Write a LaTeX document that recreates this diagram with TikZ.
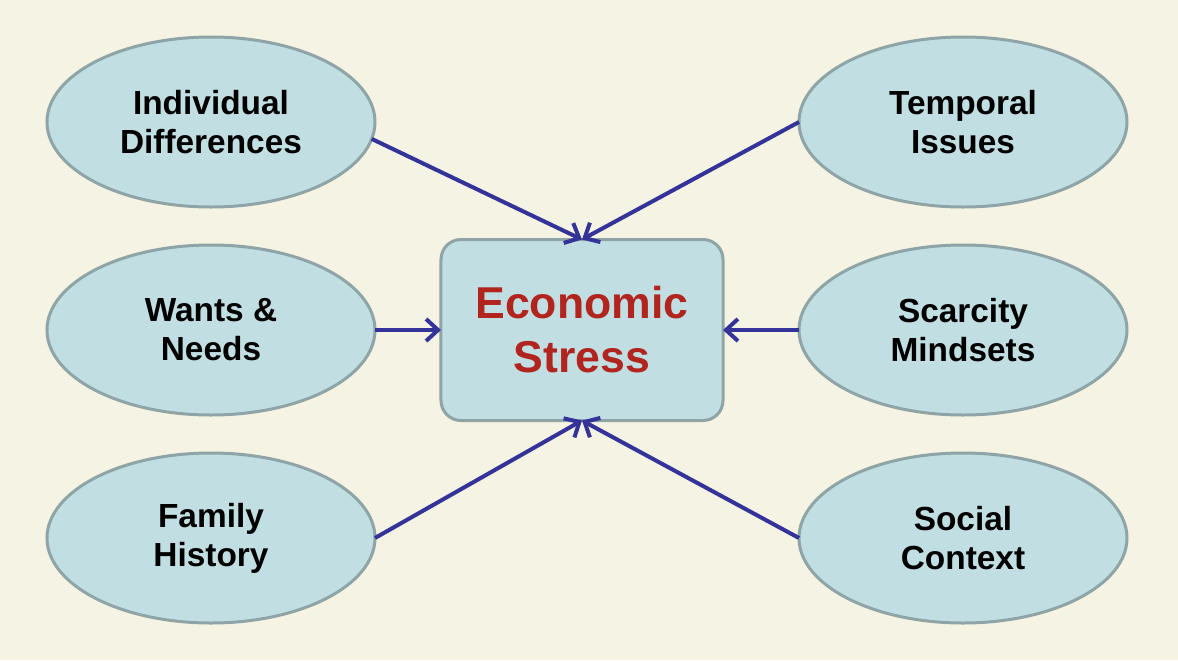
\documentclass[tikz,border=0pt]{standalone}
\usepackage{fontspec}
\setmainfont{Liberation Sans}
\usetikzlibrary{arrows.meta, positioning, shapes.geometric}
\definecolor{paper}{RGB}{245,243,227}
\definecolor{cell}{RGB}{193,223,226}
\definecolor{rim}{RGB}{142,164,166}
\definecolor{link}{RGB}{51,51,153}
\definecolor{hot}{RGB}{178,36,30}

\begin{document}
\begin{tikzpicture}[
    oval/.style={ellipse, draw=rim, fill=cell, line width=1.5pt, outer sep=0pt,
                 minimum width=164pt, minimum height=85pt, inner sep=0pt,
                 align=center, font=\fontsize{16.7}{19.5}\selectfont\bfseries},
    hub/.style={rectangle, rounded corners=10pt, draw=rim, fill=cell, line width=1.5pt,
                outer sep=0pt, minimum width=141pt, minimum height=90.5pt, align=center,
                text=hot, font=\fontsize{22.3}{27}\selectfont\bfseries},
    ar/.style={-{Straight Barb[length=6pt, width=11pt]}, draw=link, line width=2pt}
]
\fill[paper] (-291pt,-165pt) rectangle (298pt,165pt);
\node[hub] (stress) at (0,0) {Economic\\Stress};
\node[oval, left=33pt of stress] (wants) {Wants \&\\Needs};
\node[oval, above=19pt of wants] (indiv) {Individual\\Differences};
\node[oval, below=19pt of wants] (family) {Family\\History};
\node[oval, right=38pt of stress] (scarce) {Scarcity\\Mindsets};
\node[oval, above=19pt of scarce] (time) {Temporal\\Issues};
\node[oval, below=19pt of scarce] (social) {Social\\Context};
\draw[ar] (indiv.-6) -- (stress.north);
\draw[ar] (time.west) -- (stress.north);
\draw[ar] (wants.east) -- (stress.west);
\draw[ar] (scarce.west) -- (stress.east);
\draw[ar] (family.east) -- (stress.south);
\draw[ar] (social.west) -- (stress.south);
\end{tikzpicture}
\end{document}
